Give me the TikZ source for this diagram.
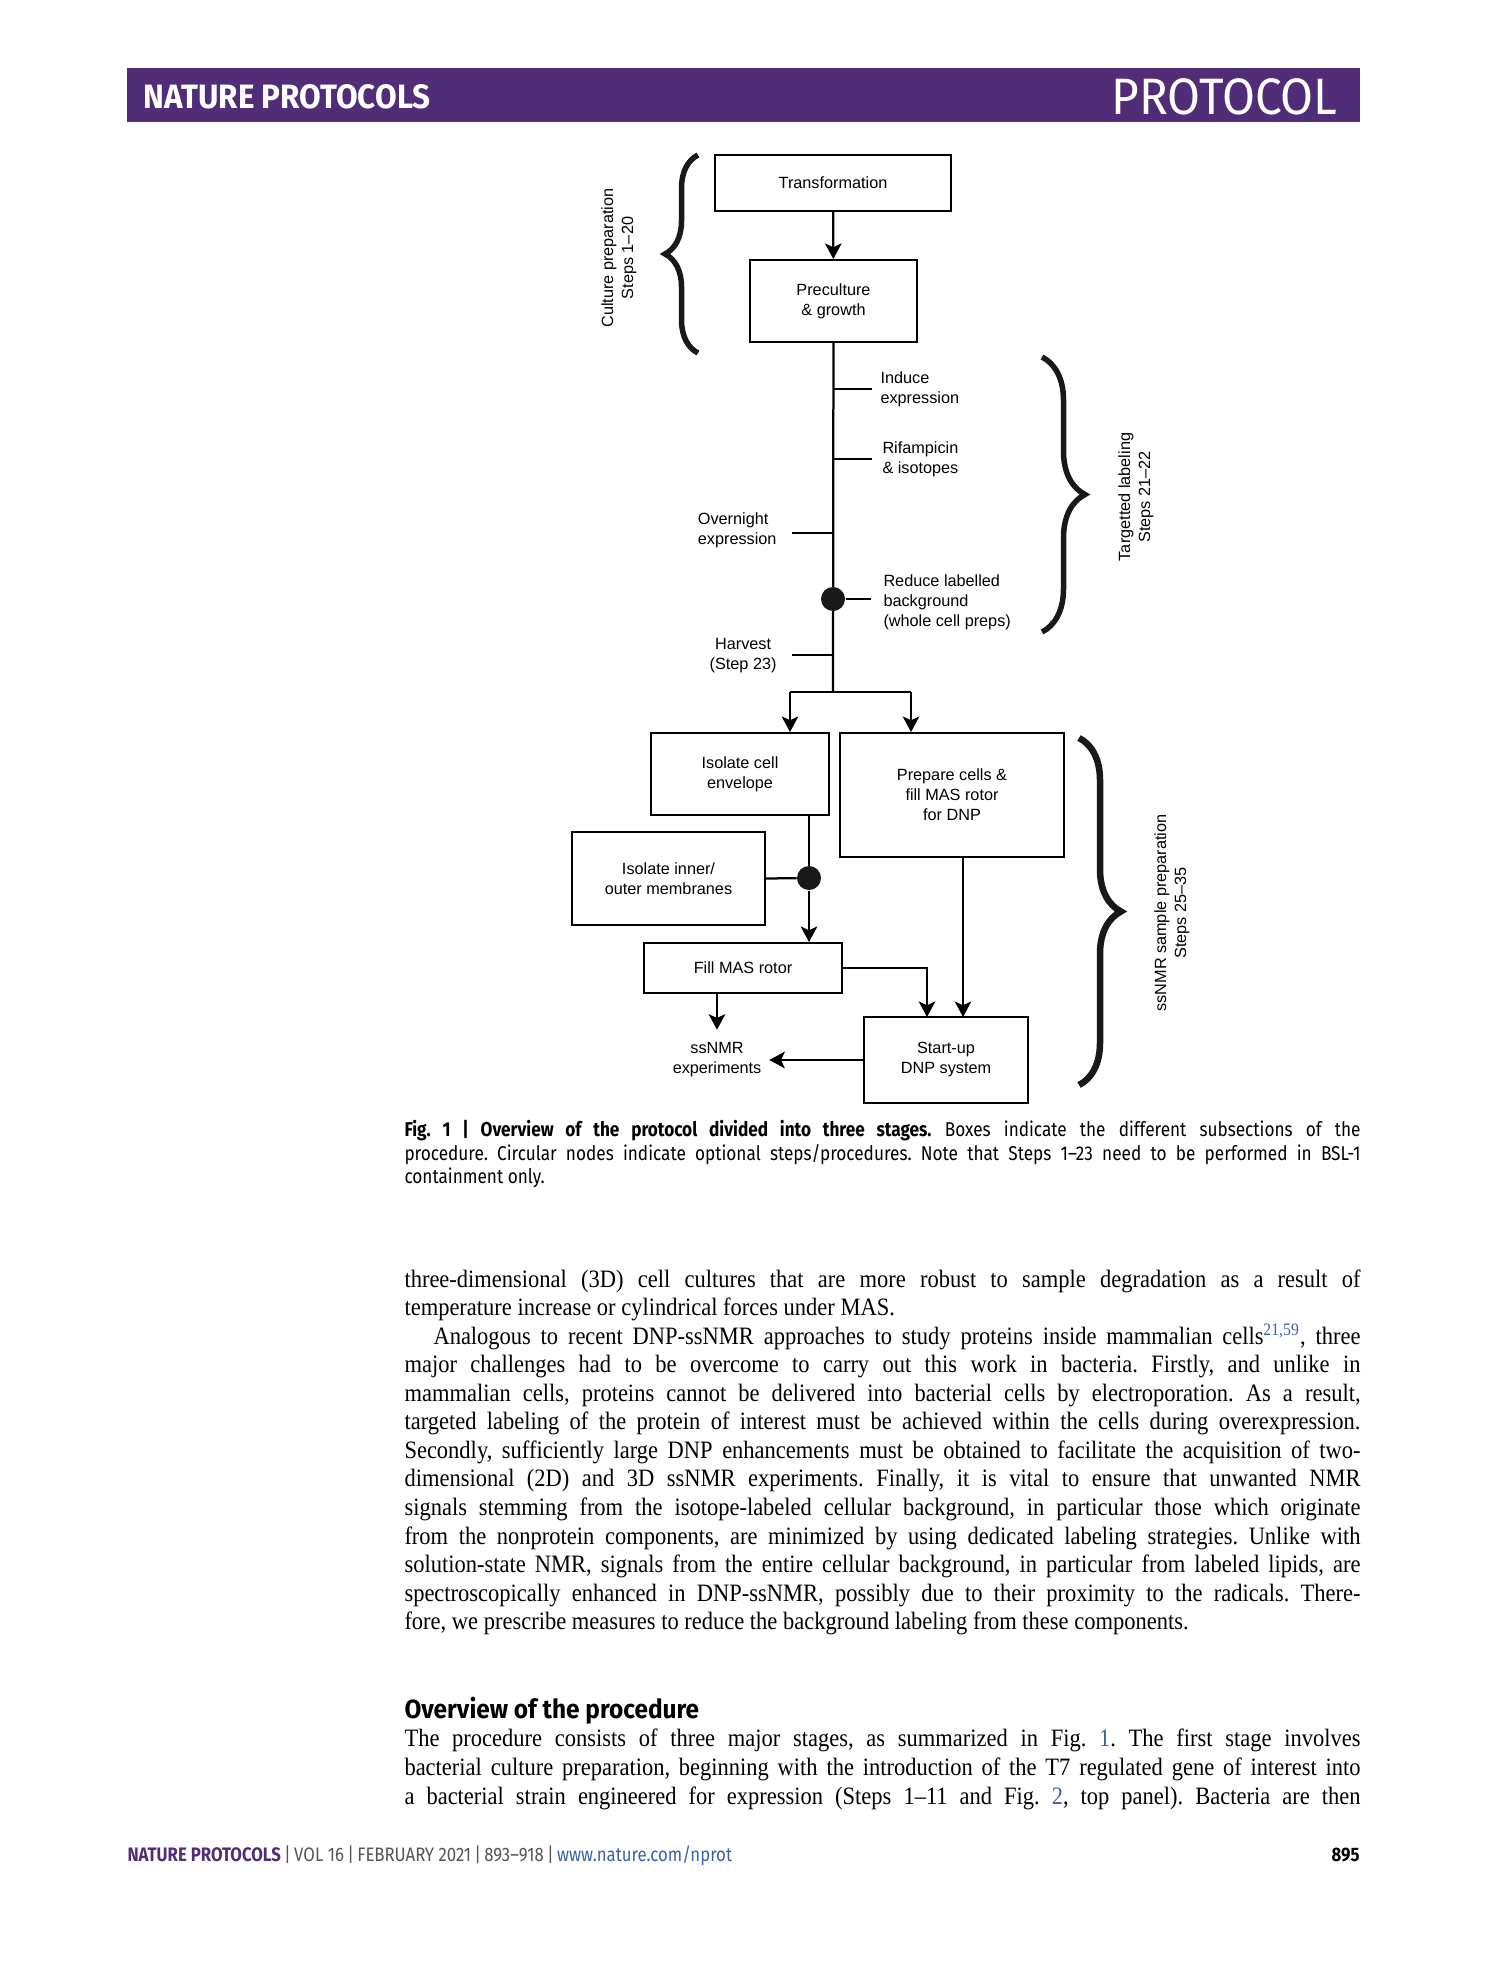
\documentclass[tikz,border=0pt]{standalone}
\usepackage{fontspec}
\setmainfont{Liberation Serif}
\newfontfamily\diagfont[Ligatures=TeX]{Liberation Sans}
\newfontfamily\bodyfont[Ligatures=TeX, FakeStretch=0.9]{Liberation Serif}
\newfontfamily\capfont[Ligatures=TeX, FakeStretch=0.86]{Fira Sans}
\newfontfamily\headfont[Ligatures=TeX, FakeStretch=0.93]{Fira Sans}
\usepackage{tikz}
\usetikzlibrary{arrows.meta}
\usetikzlibrary{decorations.pathreplacing}
\usepackage{xcolor}
\definecolor{natpurple}{RGB}{81,45,119}
\definecolor{refblue}{RGB}{58,98,170}
\definecolor{footgray}{RGB}{85,85,85}
\frenchspacing

\begin{document}
\begin{tikzpicture}[
    x=0.4pt, y=-0.4pt,
    box/.style={draw, line width=0.8pt, inner sep=0pt, align=center, font=\diagfont\fontsize{6.5}{8}\selectfont},
    note/.style={inner sep=0pt, align=left, font=\diagfont\fontsize{6.5}{8}\selectfont},
    branch/.style={line width=0.9pt},
    flow/.style={->, >={Stealth[length=6.2pt,width=6.6pt,inset=1.5pt]}, line width=0.9pt},
    dot/.style={circle, fill=black!90, minimum size=9.6pt, inner sep=0pt},
    stage/.style={decorate, decoration={brace, amplitude=#1, aspect=0.5}, line width=2.2pt, black!90},
    bodyline/.style={anchor=base west, inner sep=0pt, font=\bodyfont\fontsize{10}{11.4}\selectfont},
    capline/.style={anchor=base west, inner sep=0pt, font=\capfont\fontsize{8}{9.6}\selectfont}
]
    \path[use as bounding box, fill=white] (0,0) rectangle (1489,1978);

    % Header bar
    \fill[natpurple] (127,68) rectangle (1360,122);
    \node[anchor=base west, inner sep=0pt, text=white, font=\headfont\fontsize{13.5}{14}\selectfont\bfseries] (journal) at (143,109) {NATURE PROTOCOLS};
    \node[anchor=base east, inner sep=0pt, text=white, font=\headfont\fontsize{20.5}{21}\selectfont] (kind) at (1338,115) {PROTOCOL};

    % Culture preparation
    \node[box, minimum width=94.4pt, minimum height=22.4pt] (trans) at (833,183) {Transformation};
    \node[box, minimum width=66.8pt, minimum height=32.8pt] (precult) at (833.5,301) {Preculture\\\& growth};
    \draw[flow] (trans) -- (precult);
    \draw[stage=13.2pt] (698,353) -- (698,155);
    \node[note, rotate=90, align=center] (culturelab) at (619,258) {Culture preparation\\Steps 1--20};

    % Targetted labeling
    \coordinate (split) at (833,692);
    \draw[branch] (precult) -- (split);
    \node[note, anchor=west] (induce) at (880,389) {Induce\\expression};
    \node[note, anchor=west] (rifa) at (882,459) {Rifampicin\\\& isotopes};
    \node[note, anchor=east, align=left] (overnight) at (777,530) {Overnight\\expression};
    \node[note, anchor=west] (reduce) at (883,602) {Reduce labelled\\background\\(whole cell preps)};
    \node[note, anchor=east, align=center] (harvest) at (777,656) {Harvest\\(Step 23)};
    \draw[branch] (induce.west -| precult.south) -- +(38,0);
    \draw[branch] (rifa.west -| precult.south) -- +(38,0);
    \draw[branch] (precult.south |- 0,533) -- +(-42,0);
    \draw[branch] (precult.south |- 0,655) -- +(-42,0);
    \node[dot] (optbg) at (833,599) {};
    \draw[branch] (optbg) -- +(38,0);
    \draw[stage=17.2pt] (1042,357) -- (1042,632);
    \node[note, rotate=90, align=center] (labellab) at (1136,497) {Targetted labeling\\Steps 21--22};

    % ssNMR sample preparation
    \node[box, minimum width=71.2pt, minimum height=32.8pt] (envelope) at (740,774) {Isolate cell\\envelope};
    \node[box, minimum width=89.6pt, minimum height=49.6pt] (prep) at (952,795) {Prepare cells \&\\fill MAS rotor\\for DNP};
    \node[box, minimum width=77.2pt, minimum height=37.2pt] (inner) at (668.5,878.5) {Isolate inner/\\outer membranes};
    \node[box, minimum width=79.2pt, minimum height=20pt] (fillmas) at (743,968) {Fill MAS rotor};
    \node[box, minimum width=65.6pt, minimum height=34.4pt] (startup) at (946,1060) {Start-up\\DNP system};
    \node[note, align=center, inner xsep=3pt] (ssnmr) at (717,1060) {ssNMR\\experiments};
    \node[dot] (optmem) at (809,878) {};
    \coordinate (splitL) at (790,692);
    \coordinate (splitR) at (911,692);
    \coordinate (inA) at (927,1017);
    \coordinate (inB) at (963,1017);
    \draw[branch] (splitL) -- (splitR);
    \draw[flow] (splitL) -- (splitL |- envelope.north);
    \draw[flow] (splitR) -- (splitR |- prep.north);
    \draw[branch] (envelope.south -| optmem) -- (optmem);
    \draw[branch] (inner.east) -- (optmem);
    \draw[flow] (optmem) -- (optmem |- fillmas.north);
    \draw[flow] (fillmas.east) -| (inA);
    \draw[flow] (prep.south -| inB) -- (inB);
    \draw[flow] (fillmas.south -| ssnmr) -- ([yshift=5pt]ssnmr.north);
    \draw[flow] (startup.west) -- (ssnmr.east);
    \draw[stage=16.8pt, line width=2.6pt] (1079,738) -- (1079,1085);
    \node[note, rotate=90, align=center] (ssnmrlab) at (1172,913) {ssNMR sample preparation\\Steps 25--35};

    % Caption
    \node[capline] (cap1) at (404,1136) {\hbox to 382.4pt{\bfseries Fig. 1 | Overview of the protocol divided into three stages.\mdseries{} Boxes indicate the different subsections of the}};
    \node[capline] (cap2) at (404,1160) {\hbox to 382.4pt{procedure. Circular nodes indicate optional steps/procedures. Note that Steps 1--23 need to be performed in BSL-1}};
    \node[capline] (cap3) at (404,1183) {containment only.};

    % Body text
    \node[bodyline] (p1) at (404,1287) {\hbox to 382.4pt{three-dimensional (3D) cell cultures that are more robust to sample degradation as a result of}};
    \node[bodyline] (p2) at (404,1315.6) {temperature increase or cylindrical forces under MAS.};
    \node[bodyline] (p3) at (433,1344.1) {\hbox to 370.8pt{Analogous to recent DNP-ssNMR approaches to study proteins inside mammalian cells\textsuperscript{\color{refblue}21,59}, three}};
    \node[bodyline] (p4) at (404,1372.7) {\hbox to 382.4pt{major challenges had to be overcome to carry out this work in bacteria. Firstly, and unlike in}};
    \node[bodyline] (p5) at (404,1401.2) {\hbox to 382.4pt{mammalian cells, proteins cannot be delivered into bacterial cells by electroporation. As a result,}};
    \node[bodyline] (p6) at (404,1429.8) {\hbox to 382.4pt{targeted labeling of the protein of interest must be achieved within the cells during overexpression.}};
    \node[bodyline] (p7) at (404,1458.3) {\hbox to 382.4pt{Secondly, sufficiently large DNP enhancements must be obtained to facilitate the acquisition of two-}};
    \node[bodyline] (p8) at (404,1486.9) {\hbox to 382.4pt{dimensional (2D) and 3D ssNMR experiments. Finally, it is vital to ensure that unwanted NMR}};
    \node[bodyline] (p9) at (404,1515.4) {\hbox to 382.4pt{signals stemming from the isotope-labeled cellular background, in particular those which originate}};
    \node[bodyline] (p10) at (404,1544) {\hbox to 382.4pt{from the nonprotein components, are minimized by using dedicated labeling strategies. Unlike with}};
    \node[bodyline] (p11) at (404,1572.5) {\hbox to 382.4pt{solution-state NMR, signals from the entire cellular background, in particular from labeled lipids, are}};
    \node[bodyline] (p12) at (404,1601) {\hbox to 382.4pt{spectroscopically enhanced in DNP-ssNMR, possibly due to their proximity to the radicals. There-}};
    \node[bodyline] (p13) at (404,1629.6) {fore, we prescribe measures to reduce the background labeling from these components.};

    % Overview section
    \node[anchor=base west, inner sep=0pt, font=\headfont\fontsize{10.5}{12}\selectfont\bfseries] (overview) at (404,1718) {Overview of the procedure};
    \node[bodyline] (q1) at (404,1746) {\hbox to 382.4pt{The procedure consists of three major stages, as summarized in Fig.~{\color{refblue}1}. The first stage involves}};
    \node[bodyline] (q2) at (404,1775) {\hbox to 382.4pt{bacterial culture preparation, beginning with the introduction of the T7 regulated gene of interest into}};
    \node[bodyline] (q3) at (404,1804) {\hbox to 382.4pt{a bacterial strain engineered for expression (Steps 1--11 and Fig.~{\color{refblue}2}, top panel). Bacteria are then}};

    % Footer
    \node[anchor=base west, inner sep=0pt, font=\capfont\fontsize{7.8}{9}\selectfont] (foot) at (127,1861) {{\color{natpurple}\bfseries NATURE PROTOCOLS}{\color{footgray}\,|\,VOL 16\,|\,FEBRUARY 2021\,|\,893--918\,|\,}{\color{refblue}www.nature.com/nprot}};
    \node[anchor=base east, inner sep=0pt, font=\capfont\fontsize{7.8}{9}\selectfont\bfseries] (page) at (1360,1861) {895};
\end{tikzpicture}
\end{document}
